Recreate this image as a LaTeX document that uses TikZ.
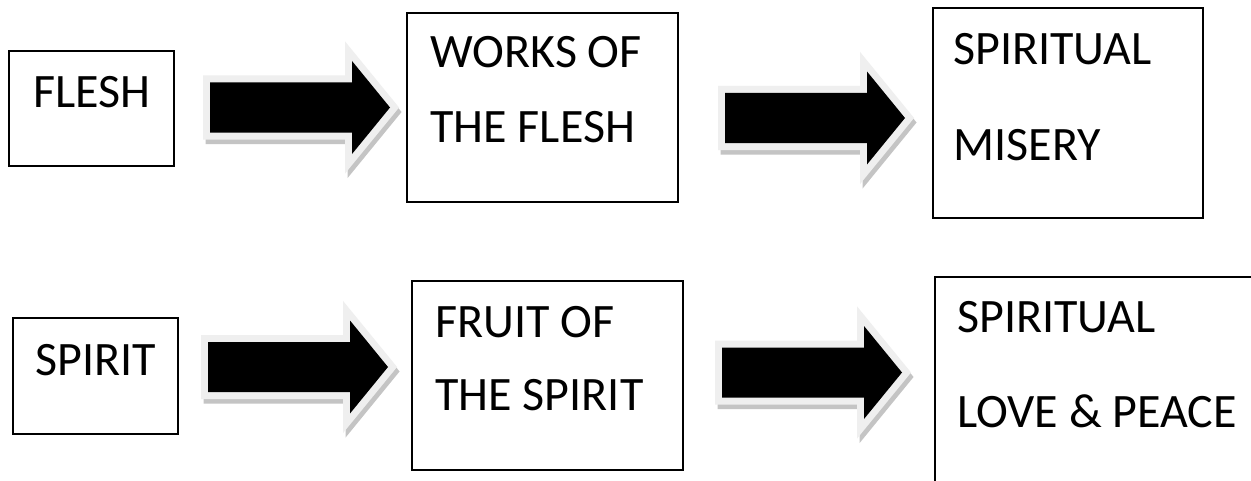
\documentclass[tikz,border=0pt]{standalone}
\usepackage{fontspec}
\setmainfont{Carlito}
\begin{document}
\begin{tikzpicture}[x=0.5pt,y=-0.5pt,
  box/.style={draw=black, line width=1pt, fill=white, inner sep=0pt, rectangle},
  lbl/.style={inner sep=0pt, anchor=base west, font=\fontsize{24}{28}\selectfont},
  arrowpath/.style={line join=miter, miter limit=10},
  blockarrow/.pic={
    \path[arrowpath, fill=shadowgray, draw=shadowgray, line width=7pt, shift={(2.5,4.5)}]
      (0,-25)--(142,-25)--(142,-46.5)--(180,0)--(142,46.5)--(142,25)--(0,25)--cycle;
    \path[arrowpath, fill=bordergray, draw=bordergray, line width=7pt]
      (0,-25)--(142,-25)--(142,-46.5)--(180,0)--(142,46.5)--(142,25)--(0,25)--cycle;
    \path[arrowpath, fill=black]
      (0,-25)--(142,-25)--(142,-46.5)--(180,0)--(142,46.5)--(142,25)--(0,25)--cycle;
  }]
\definecolor{shadowgray}{HTML}{C4C4C4}
\definecolor{bordergray}{HTML}{EFEFEF}
\useasboundingbox (0,0) rectangle (1251,481);
\clip (0,0) rectangle (1251,481);
\fill[white] (0,0) rectangle (1251,481);

% boxes
\node[box, minimum width=82.5pt, minimum height=57.5pt] (flesh) at (91.5,108.5) {};
\node[box, minimum width=135.5pt, minimum height=94.5pt] (works) at (542.5,107.5) {};
\node[box, minimum width=135pt, minimum height=105pt] (misery) at (1068,113) {};
\node[box, minimum width=82.5pt, minimum height=58pt] (spirit) at (95.5,376) {};
\node[box, minimum width=135.5pt, minimum height=94.5pt] (fruit) at (547.5,375.5) {};
\node[box, minimum width=163.5pt, minimum height=107.5pt] (love) at (1098.5,384.5) {};

% block arrows
\pic (a1) at (210,107.5) {blockarrow};
\pic (a2) at (725,118) {blockarrow};
\pic (a3) at (208,367) {blockarrow};
\pic (a4) at (722,372.5) {blockarrow};

% texts
\node[lbl] (t1) at (33,107) {FLESH};
\node[lbl] (t2a) at (430,68) {WORKS OF};
\node[lbl] (t2b) at (430,142) {THE FLESH};
\node[lbl] (t3a) at (953,65) {SPIRITUAL};
\node[lbl] (t3b) at (953,160) {MISERY};
\node[lbl] (t4) at (35,375) {SPIRIT};
\node[lbl] (t5a) at (435,337) {FRUIT OF};
\node[lbl] (t5b) at (435,410) {THE SPIRIT};
\node[lbl] (t6a) at (957,332) {SPIRITUAL};
\node[lbl] (t6b) at (957,427) {LOVE \& PEACE};
\end{tikzpicture}
\end{document}
